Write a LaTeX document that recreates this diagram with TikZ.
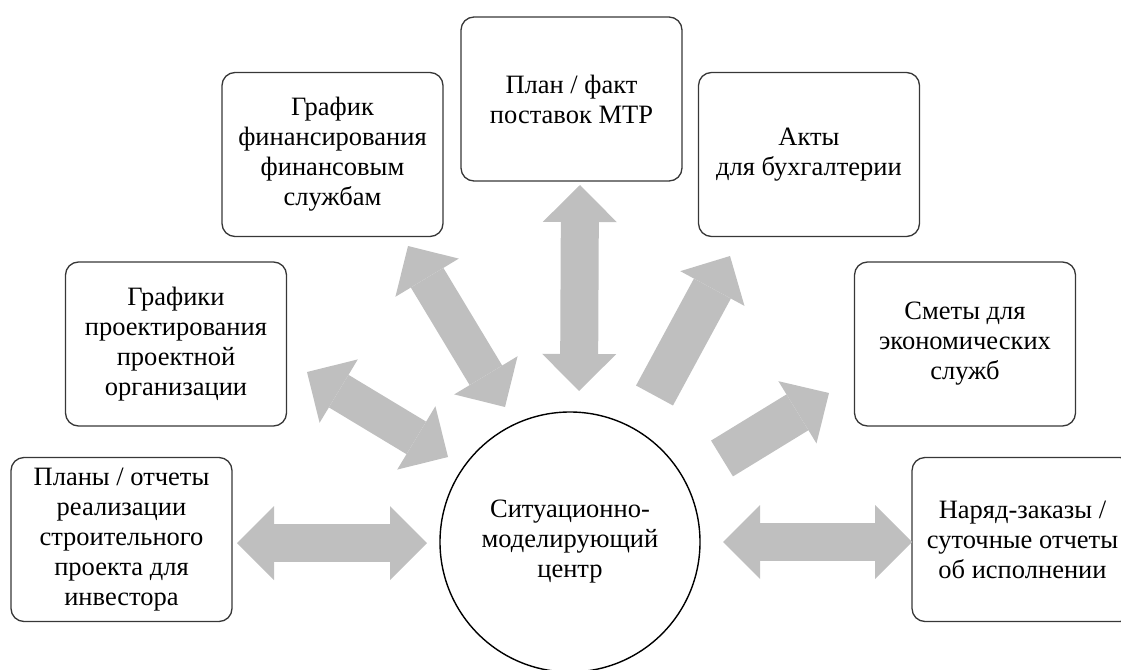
\documentclass[tikz,border=0pt]{standalone}
\usepackage{fontspec}
\setmainfont{Liberation Serif}
\usetikzlibrary{arrows.meta,positioning}
\definecolor{arrowgray}{RGB}{191,191,191}
\definecolor{edgegray}{RGB}{55,55,55}

\begin{document}
\begin{tikzpicture}[x=1pt,y=-1pt,font=\fontsize{26.5}{30}\selectfont,
  box/.style={draw=edgegray,line width=1.3pt,rounded corners=13pt,minimum width=221pt,minimum height=164pt,align=center,inner sep=0pt},
  hubnode/.style={circle,draw,line width=1.4pt,minimum size=260pt,align=center,inner sep=0pt},
  dbl/.style={arrowgray,line width=38pt,{Triangle[width=74pt,length=37pt,line width=0pt]}-{Triangle[width=74pt,length=37pt,line width=0pt]}},
  sgl/.style={arrowgray,line width=42pt,-{Triangle[width=73pt,length=37pt,line width=0pt]}}]
   \useasboundingbox (0,0) rectangle (1121,669);
   \clip (0,0) rectangle (1121,669);

   \node[hubnode] (hub) at (570,542) {Ситуационно-\\моделирующий\\центр};
   \node[box] (supply)    at (571.5,99)    {План / факт\\поставок МТР};
   \node[box] (finance)   at (332.5,154.5) {График\\финансирования\\финансовым\\службам};
   \node[box] (acts)      at (809,154.5)   {Акты\\для бухгалтерии};
   \node[box] (design)    at (176,344)     {Графики\\проектирования\\проектной\\организации};
   \node[box] (estimates) at (965,344)     {Сметы для\\экономических\\служб};
   \node[box] (plans)     at (121.5,539.5) {Планы / отчеты\\реализации\\строительного\\проекта для\\инвестора};
   \node[box] (orders)    at (1022.5,539.5) {Наряд-заказы /\\суточные отчеты\\об исполнении};

   % ends of the gray arrows
   \coordinate (plans_r)   at (237,543);  \coordinate (hub_l)  at (427,543);
   \coordinate (orders_l)  at (912,542);  \coordinate (hub_r)  at (723,542);
   \coordinate (supply_b)  at (580,185);  \coordinate (hub_t)  at (579,391);
   \coordinate (finance_b) at (408,246);  \coordinate (hub_tl) at (505,407);
   \coordinate (design_b)  at (307,372);  \coordinate (hub_ml) at (448,457);
   \coordinate (acts_b)    at (730,256);  \coordinate (hub_tr) at (654.5,395.5);
   \coordinate (est_b)     at (829,393);  \coordinate (hub_mr) at (722,458.5);

   \draw[dbl] (plans_r) -- (hub_l);
   \draw[dbl] (hub_r) -- (orders_l);
   \draw[dbl] (supply_b) -- (hub_t);
   \draw[dbl] (finance_b) -- (hub_tl);
   \draw[dbl] (design_b) -- (hub_ml);
   \draw[sgl] (hub_tr) -- (acts_b);
   \draw[sgl] (hub_mr) -- (est_b);
\end{tikzpicture}
\end{document}
